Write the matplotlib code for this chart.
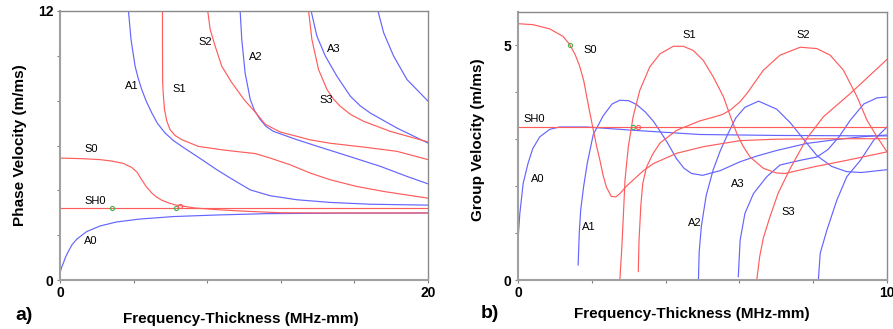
import matplotlib.pyplot as plt

plt.rcParams['font.family'] = ['Liberation Sans', 'DejaVu Sans']

RED = '#ff5c5c'
BLUE = '#6464ff'
GREEN = '#4caf50'

# ---- a) phase velocity (m/ms) vs frequency-thickness (MHz-mm)
a_A0_x = [0, 0.08, 0.18, 0.30, 0.45, 0.65, 0.91, 1.45, 2.18, 3.08, 4.35, 6.16, 8.52, 11.24, 14.87, 20]
a_A0_y = [0.30, 0.55, 0.75, 1.02, 1.27, 1.57, 1.82, 2.16, 2.41, 2.59, 2.72, 2.83, 2.90, 2.96, 2.98, 2.99]
a_S0_x = [0, 1.27, 2.18, 2.85, 3.45, 3.90, 4.20, 4.44, 4.70, 4.99, 5.25, 5.53, 5.90, 6.26,
          6.89, 7.34, 8.5, 10.0, 12.0, 14.87, 20]
a_S0_y = [5.44, 5.41, 5.37, 5.30, 5.20, 5.02, 4.80, 4.47, 4.15, 3.88, 3.70, 3.56, 3.44, 3.35,
          3.27, 3.21, 3.14, 3.07, 3.00, 2.99, 2.99]
a_SH0_x = [0, 20]
a_SH0_y = [3.205, 3.205]
a_A1_x = [3.72, 3.86, 4.08, 4.25, 4.44, 4.70, 4.99, 5.30, 5.71, 6.15, 6.62, 7.71, 8.52, 9.25,
          10.34, 11.42, 12.87, 14.69, 16.86, 20]
a_A1_y = [12, 10.73, 9.54, 9.0, 8.50, 7.95, 7.45, 6.98, 6.56, 6.23, 5.96, 5.37, 4.92, 4.55,
          4.02, 3.76, 3.58, 3.46, 3.38, 3.34]
a_S1_x = [5.57, 5.57, 5.58, 5.62, 5.68, 5.80, 5.98, 6.25, 6.62, 7.52, 8.79, 9.5, 10.61,
          11.42, 12.51, 13.60, 14.69, 16.14, 17.59, 20]
a_S1_y = [12, 10.29, 8.80, 8.20, 7.60, 7.10, 6.71, 6.45, 6.26, 5.96, 5.81, 5.74, 5.64,
          5.44, 5.14, 4.77, 4.47, 4.17, 3.95, 3.65]
a_S2_x = [8.03, 8.16, 8.43, 8.79, 9.30, 10.0, 10.65, 11.15, 11.97, 12.87, 13.6, 14.69,
          16.50, 18.31, 20]
a_S2_y = [12, 11.18, 10.44, 9.54, 8.85, 8.05, 7.45, 6.95, 6.60, 6.41, 6.25, 6.10,
          5.93, 5.74, 5.37]
a_A2_x = [9.79, 9.88, 10.06, 10.34, 10.58, 10.88, 11.20, 11.60, 12.87, 14.0, 15.7, 17.41, 18.86, 20]
a_A2_y = [12, 10.73, 9.24, 8.05, 7.55, 7.16, 6.85, 6.63, 6.26, 5.96, 5.52, 5.07, 4.62, 4.29]
a_S3_x = [13.51, 13.69, 14.05, 14.51, 14.85, 15.23, 15.80, 16.50, 17.95, 20]
a_S3_y = [12, 10.73, 9.39, 8.50, 8.08, 7.75, 7.38, 7.08, 6.63, 6.16]
a_A3_x = [13.65, 13.96, 14.42, 15.05, 15.78, 16.30, 16.86, 18.31, 20]
a_A3_y = [12, 10.88, 9.99, 9.09, 8.20, 7.78, 7.45, 6.78, 6.11]
a_A4_x = [17.28, 17.59, 18.13, 18.86, 20]
a_A4_y = [12, 11.03, 9.99, 8.94, 7.98]
a_mark_x = [2.85, 6.29]
a_mark_y = [3.23, 3.23]
a_mark2_x = [6.53]
a_mark2_y = [3.31]

# ---- b) group velocity (m/ms) vs frequency-thickness (MHz-mm)
b_A0_x = [0, 0.05, 0.14, 0.27, 0.40, 0.59, 0.86, 1.13, 1.86, 3.12, 4.93, 7.0, 10]
b_A0_y = [0.85, 1.42, 2.06, 2.48, 2.80, 3.05, 3.21, 3.26, 3.26, 3.19, 3.10, 3.08, 3.07]
b_S0_x = [0.02, 0.41, 0.86, 1.22, 1.40, 1.55, 1.67, 1.78, 1.86, 1.95, 2.04, 2.13, 2.22,
          2.31, 2.40, 2.53, 2.65, 2.76, 2.94, 3.12, 3.40, 3.67, 4.30, 5.02, 6.02, 7.0, 8.5, 10]
b_S0_y = [5.46, 5.44, 5.35, 5.19, 5.02, 4.80, 4.56, 4.25, 3.92, 3.55, 3.20, 2.85, 2.55,
          2.22, 1.97, 1.78, 1.77, 1.84, 2.00, 2.13, 2.33, 2.48, 2.70, 2.84, 2.97, 3.00, 3.01, 3.01]
b_SH0_x = [0, 10]
b_SH0_y = [3.25, 3.25]
b_A1_x = [1.63, 1.66, 1.70, 1.78, 1.88, 2.04, 2.31, 2.55, 2.76, 3.0, 3.21, 3.45, 3.67, 3.85,
          4.03, 4.30, 4.50, 4.70, 5.0, 5.48, 6.02, 6.47, 7.01, 7.83, 8.6, 9.3, 10]
b_A1_y = [0.32, 1.0, 1.5, 2.0, 2.5, 3.1, 3.5, 3.75, 3.83, 3.82, 3.74, 3.58, 3.38, 3.17,
          2.95, 2.58, 2.38, 2.27, 2.23, 2.33, 2.52, 2.64, 2.76, 2.91, 2.99, 3.05, 3.09]
b_S1_x = [2.76, 2.81, 2.86, 2.90, 2.99, 3.12, 3.30, 3.57, 3.85, 4.21, 4.48, 4.75, 5.02,
          5.29, 5.57, 5.75, 5.93, 6.10, 6.29, 6.65, 7.0, 7.24, 8.01, 8.91, 10]
b_S1_y = [0, 0.64, 1.45, 2.13, 2.84, 3.48, 4.04, 4.54, 4.82, 4.98, 4.98, 4.89, 4.68,
          4.33, 3.90, 3.50, 3.12, 2.85, 2.62, 2.38, 2.28, 2.27, 2.41, 2.55, 2.73]
b_S2_x = [3.26, 3.28, 3.33, 3.38, 3.48, 3.65, 3.85, 4.30, 4.93, 5.30, 5.55, 5.75, 6.02,
          6.20, 6.65, 7.10, 7.65, 8.10, 8.46, 8.82, 9.19, 9.46, 9.73, 10]
b_S2_y = [0.18, 0.85, 1.60, 2.05, 2.40, 2.68, 2.92, 3.19, 3.39, 3.47, 3.53, 3.62, 3.80,
          3.97, 4.47, 4.79, 4.96, 4.93, 4.79, 4.47, 3.90, 3.40, 3.05, 2.73]
b_A2_x = [4.89, 4.91, 4.97, 5.10, 5.29, 5.48, 5.68, 5.90, 6.15, 6.52, 7.01, 7.38, 7.74,
          8.10, 8.50, 8.90, 9.3, 10]
b_A2_y = [0, 0.6, 1.15, 1.8, 2.35, 2.75, 3.1, 3.45, 3.68, 3.81, 3.64, 3.35, 3.0,
          2.65, 2.42, 2.31, 2.29, 2.35]
b_A3_x = [5.97, 6.02, 6.15, 6.38, 6.74, 7.10, 7.65, 8.10, 8.40, 8.70, 9.0, 9.37, 9.73, 10]
b_A3_y = [0.07, 0.85, 1.42, 1.84, 2.20, 2.45, 2.55, 2.62, 2.78, 3.05, 3.40, 3.75, 3.88, 3.90]
b_S3_x = [6.47, 6.55, 6.65, 6.83, 7.05, 7.38, 7.83, 8.28, 9.0, 10]
b_S3_y = [0, 0.5, 0.9, 1.35, 1.85, 2.38, 3.02, 3.48, 3.97, 4.70]
b_A4_x = [8.14, 8.19, 8.37, 8.64, 8.91, 9.28, 9.64, 10]
b_A4_y = [0, 0.57, 1.06, 1.70, 2.20, 2.55, 2.98, 3.26]
b_mark_x = [1.40, 3.12]
b_mark_y = [5.0, 3.26]
b_mark2_x = [3.26]
b_mark2_y = [3.26]

a_labels = ['S2', 'A3', 'A2', 'A1', 'S1', 'S3', 'S0', 'SH0', 'A0']
a_lab_x = [7.89, 14.87, 10.66, 3.90, 6.47, 14.47, 1.72, 1.94, 1.69]
a_lab_y = [10.61, 10.29, 9.96, 8.65, 8.50, 8.01, 5.84, 3.53, 1.74]
b_labels = ['S0', 'S1', 'S2', 'SH0', 'A0', 'A1', 'A2', 'A3', 'S3']
b_lab_x = [1.95, 4.63, 7.74, 0.45, 0.54, 1.93, 4.78, 5.95, 7.33]
b_lab_y = [4.89, 5.21, 5.21, 3.42, 2.15, 1.12, 1.22, 2.04, 1.45]

fig = plt.figure(figsize=(8.93, 3.29), dpi=100)
ax1 = fig.add_axes([60 / 893, 49 / 329, 368 / 893, 269 / 329])
ax2 = fig.add_axes([518 / 893, 49 / 329, 369 / 893, 268 / 329])

lw = 0.85
for x, y, c in [(a_A0_x, a_A0_y, BLUE), (a_A1_x, a_A1_y, BLUE), (a_A2_x, a_A2_y, BLUE),
                (a_A3_x, a_A3_y, BLUE), (a_A4_x, a_A4_y, BLUE),
                (a_S0_x, a_S0_y, RED), (a_S1_x, a_S1_y, RED), (a_S2_x, a_S2_y, RED),
                (a_S3_x, a_S3_y, RED), (a_SH0_x, a_SH0_y, RED)]:
    ax1.plot(x, y, color=c, lw=lw, solid_joinstyle='round')
ax1.plot(a_mark_x, a_mark_y, 'o', ms=3, mfc='none', mec=GREEN, mew=0.8)
ax1.plot(a_mark2_x, a_mark2_y, 'o', ms=3, mfc='none', mec=RED, mew=0.8)

for x, y, c in [(b_A0_x, b_A0_y, BLUE), (b_A1_x, b_A1_y, BLUE), (b_A2_x, b_A2_y, BLUE),
                (b_A3_x, b_A3_y, BLUE), (b_A4_x, b_A4_y, BLUE),
                (b_S0_x, b_S0_y, RED), (b_S1_x, b_S1_y, RED), (b_S2_x, b_S2_y, RED),
                (b_S3_x, b_S3_y, RED), (b_SH0_x, b_SH0_y, RED)]:
    ax2.plot(x, y, color=c, lw=lw, solid_joinstyle='round')
ax2.plot(b_mark_x, b_mark_y, 'o', ms=3, mfc='none', mec=GREEN, mew=0.8)
ax2.plot(b_mark2_x, b_mark2_y, 'o', ms=3, mfc='none', mec=RED, mew=0.8)

for t, x, y in zip(a_labels, a_lab_x, a_lab_y):
    ax1.text(x, y, t, fontsize=8, ha='center', va='center')
for t, x, y in zip(b_labels, b_lab_x, b_lab_y):
    ax2.text(x, y, t, fontsize=8, ha='center', va='center')

ax1.set_xlim(0, 20)
ax1.set_ylim(0, 12)
ax1.set_xticks([0, 4, 8, 12, 16, 20], ['0', '', '', '', '', '20'])
ax1.set_yticks([0, 2, 4, 6, 8, 10, 12], ['0', '', '', '', '', '', '12'])
ax2.set_xlim(0, 10)
ax2.set_ylim(0, 5.71)
ax2.set_xticks([0, 2, 4, 6, 8, 10], ['0', '', '', '', '', '10'])
ax2.set_yticks([0, 1, 2, 3, 4, 5], ['0', '', '', '', '', '5'])

for ax in (ax1, ax2):
    for s in ax.spines.values():
        s.set_color('#8a8a8a')
        s.set_linewidth(1)
    ax.spines['left'].set_linewidth(1.5)
    ax.spines['bottom'].set_linewidth(1.5)
    ax.spines['left'].set_color('#a0a0a0')
    ax.spines['bottom'].set_color('#a0a0a0')
    ax.tick_params(direction='out', length=2.5, width=0.8, color='#808080', pad=2)
    for lab in ax.get_xticklabels() + ax.get_yticklabels():
        lab.set_fontweight('bold')
        lab.set_fontsize(10)

fig.text(20 / 893, 1 - 145 / 329, 'Phase Velocity (m/ms)', rotation=90, fontsize=11,
         fontweight='bold', ha='center', va='center')
fig.text(478 / 893, 1 - 140 / 329, 'Group Velocity (m/ms)', rotation=90, fontsize=11,
         fontweight='bold', ha='center', va='center')
fig.text(241 / 893, 1 - 319 / 329, 'Frequency-Thickness (MHz-mm)', fontsize=11,
         fontweight='bold', ha='center', va='center')
fig.text(692 / 893, 1 - 314 / 329, 'Frequency-Thickness (MHz-mm)', fontsize=11,
         fontweight='bold', ha='center', va='center')
fig.text(24 / 893, 1 - 316 / 329, 'a)', fontsize=14, fontweight='bold', ha='center', va='center')
fig.text(490 / 893, 1 - 313 / 329, 'b)', fontsize=14, fontweight='bold', ha='center', va='center')

fig.savefig('out.png', dpi=100)
